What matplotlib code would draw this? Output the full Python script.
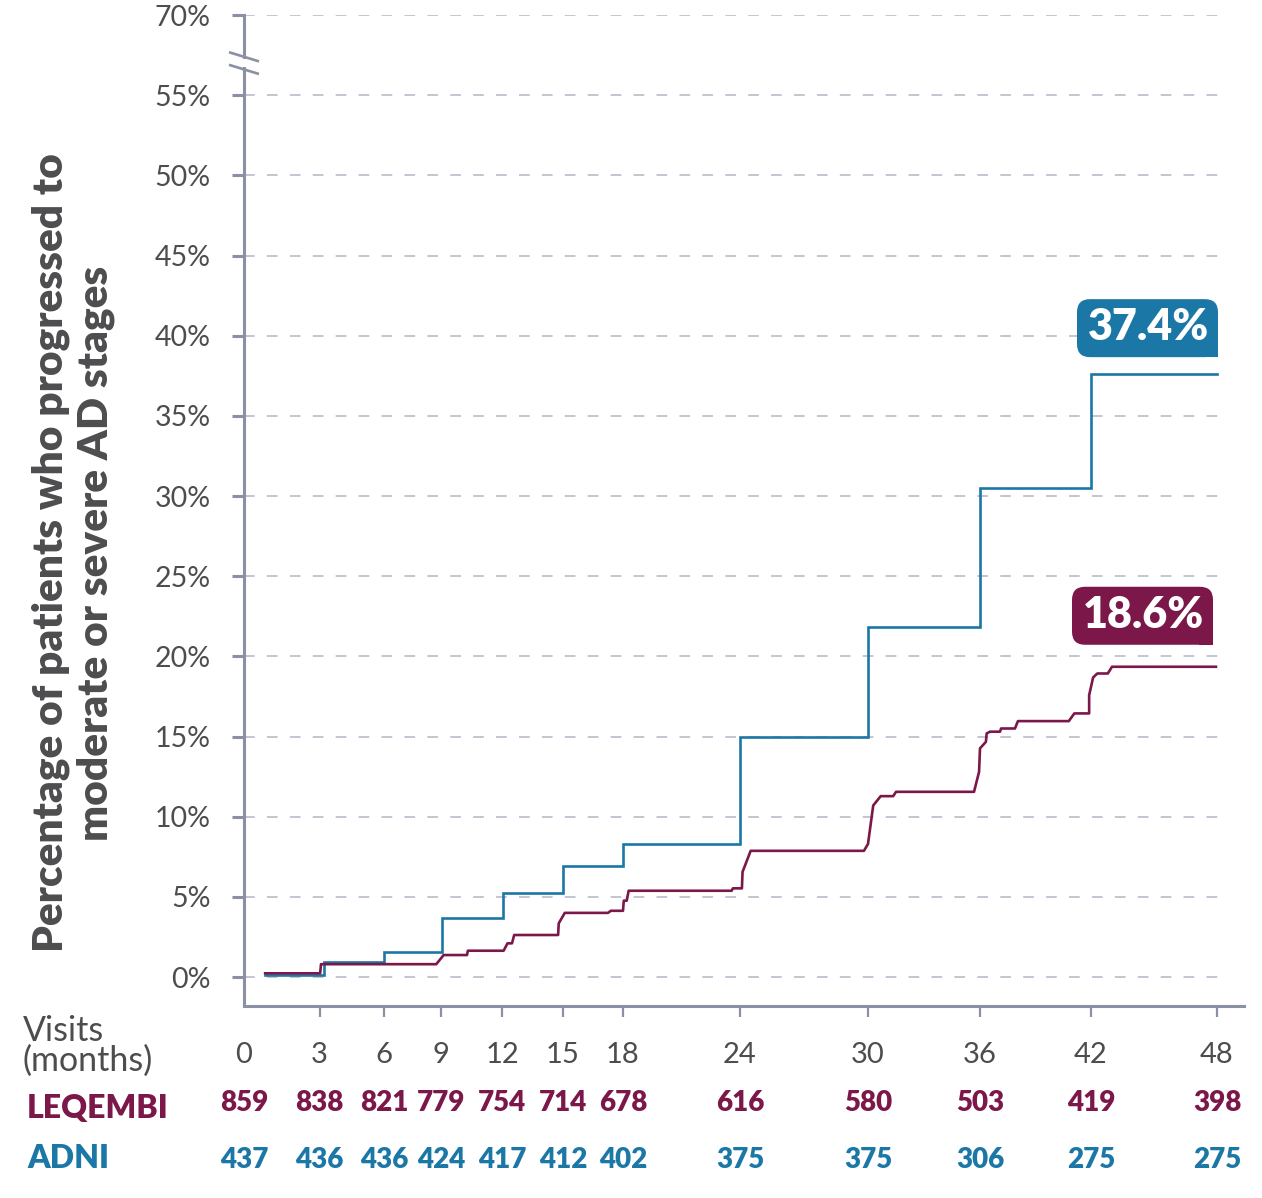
import numpy as np
import matplotlib
matplotlib.use("Agg")
import matplotlib.pyplot as plt
import matplotlib.transforms as mtransforms
from matplotlib.patches import FancyBboxPatch, Rectangle

plt.rcParams['font.family'] = ['Lato', 'DejaVu Sans']

# ---- data ----
visit_months = [0, 3, 6, 9, 12, 15, 18, 24, 30, 36, 42, 48]
leqembi_n = [859, 838, 821, 779, 754, 714, 678, 616, 580, 503, 419, 398]
adni_n = [437, 436, 436, 424, 417, 412, 402, 375, 375, 306, 275, 275]

adni_t = [0.84, 3.22, 6.0, 9.05, 12.05, 15.0, 18.0, 24.0, 30.0, 36.0, 42.0, 48.0]
adni_pct = [0.15, 0.93, 1.58, 3.7, 5.26, 6.94, 8.29, 15.0, 21.8, 30.5, 37.6, 37.6]

leqembi_t = [0.84, 3.03, 3.07, 8.75, 9.13, 10.28, 10.32, 12.08, 12.27, 12.49, 12.6,
             14.76, 14.79, 15.09, 17.25, 17.39, 18.0, 18.04, 18.19, 18.29, 23.57,
             23.64, 24.09, 24.12, 24.5, 29.81, 30.0, 30.28, 30.68, 31.35, 31.5,
             35.68, 35.95, 36.0, 36.32, 36.36, 36.54, 37.08, 37.14, 37.89, 38.05,
             40.8, 41.1, 41.9, 41.9, 42.1, 42.3, 42.8, 43.0, 47.95]
leqembi_pct = [0.23, 0.23, 0.8, 0.8, 1.37, 1.37, 1.64, 1.64, 2.1, 2.1, 2.62,
               2.62, 3.35, 4.0, 4.0, 4.13, 4.13, 4.76, 4.76, 5.38, 5.38,
               5.53, 5.53, 6.56, 7.87, 7.87, 8.3, 10.7, 11.28, 11.28, 11.55,
               11.55, 12.8, 14.26, 14.67, 15.19, 15.3, 15.3, 15.5, 15.5, 15.96,
               15.96, 16.44, 16.44, 17.58, 18.68, 18.93, 18.93, 19.35, 19.35]

y_ticks = [0, 5, 10, 15, 20, 25, 30, 35, 40, 45, 50, 55, 60]
y_labels = ['0%', '5%', '10%', '15%', '20%', '25%', '30%', '35%', '40%',
            '45%', '50%', '55%', '70%']

adni_final = '37.4%'
leqembi_final = '18.6%'

# ---- style ----
BLUE = '#1b77a5'
MAGENTA = '#7b1749'
AXIS = '#8b91a5'
GRID = '#b3b6c6'
TEXT = '#4d4d4f'

# uneven spacing of the visit axis (as drawn in the original)
scale_months = [-6, 0, 3, 6, 9, 12, 15, 18, 24, 30, 36, 42, 48, 54]
scale_pos = [94, 244, 319.5, 384, 441, 502, 563, 623, 740, 868, 980, 1091, 1217, 1343]


def fwd(m):
    return np.interp(m, scale_months, scale_pos)


def inv(p):
    return np.interp(p, scale_pos, scale_months)


W, H = 1262, 1198
fig = plt.figure(figsize=(W / 100, H / 100), dpi=100)
ax = fig.add_axes([244 / W, (H - 1006) / H, (1244 - 244) / W, (1006 - 15) / H])
ax.set_xscale('function', functions=(fwd, inv))
ax.set_xlim(0, inv(1244))
ax.set_ylim((977 - 1006) / 16.04, 60)

for s in ['top', 'right']:
    ax.spines[s].set_visible(False)
for s in ['left', 'bottom']:
    ax.spines[s].set_color(AXIS)
    ax.spines[s].set_linewidth(2.2)

# grid
ax.hlines(y_ticks, 0, 48.2, colors=GRID, linewidth=1.1, linestyles=(0, (7, 8)), zorder=1)

ax.plot(adni_t, adni_pct, drawstyle='steps-post', color=BLUE, lw=1.9, zorder=3,
        solid_joinstyle='miter')
ax.plot(leqembi_t, leqembi_pct, color=MAGENTA, lw=1.9, zorder=4)

ax.set_yticks(y_ticks)
ax.set_yticklabels(y_labels)
ax.tick_params(axis='y', length=9, width=2.2, color=AXIS, pad=15,
               labelsize=20.5, labelcolor=TEXT)
ax.set_xticks(visit_months)
ax.set_xticklabels([str(m) for m in visit_months])
ax.tick_params(axis='x', length=8, width=1.6, color=AXIS, pad=18,
               labelsize=21, labelcolor=TEXT)
ax.xaxis.get_major_ticks()[0].tick1line.set_visible(False)
ax.minorticks_off()

# axis break
brk = mtransforms.Affine2D() + mtransforms.ScaledTranslation(0, 57.0, ax.transData)
ax.add_patch(Rectangle((-6, -4), 12, 8, facecolor='white', edgecolor='none',
                       transform=brk, clip_on=False, zorder=5))
for off in (6.3, -6.3):
    ax.plot([-15, 15], [off + 4.6, off - 4.6], color=AXIS, lw=1.9,
            transform=brk, clip_on=False, zorder=6, solid_capstyle='butt')


# end labels
def end_label(x, y, txt, color, dx, dy):
    tr = mtransforms.Affine2D() + mtransforms.ScaledTranslation(x, y, ax.transData)
    w, h = 141, 58
    ax.add_patch(FancyBboxPatch((dx - w, dy), w, h,
                                boxstyle='round,pad=0,rounding_size=13',
                                facecolor=color, edgecolor='none',
                                transform=tr, clip_on=False, zorder=7))
    ax.add_patch(Rectangle((dx - 14, dy), 14, 14, facecolor=color, edgecolor='none',
                           transform=tr, clip_on=False, zorder=7))
    ax.text(dx - w / 2 + 1, dy + h / 2 + 1, txt, transform=tr, ha='center', va='center',
            color='white', fontsize=31, fontweight='heavy', zorder=8)


end_label(48, adni_pct[-1], adni_final, BLUE, 1, 17)
end_label(48, leqembi_pct[-1], leqembi_final, MAGENTA, -4, 22)

# at-risk rows
row = mtransforms.blended_transform_factory(ax.transData, fig.transFigure)
for m, n1, n2 in zip(visit_months, leqembi_n, adni_n):
    ax.text(m, 1 - 1103 / H, str(n1), transform=row, ha='center', va='center',
            color=MAGENTA, fontsize=20, fontweight='heavy', clip_on=False)
    ax.text(m, 1 - 1160 / H, str(n2), transform=row, ha='center', va='center',
            color=BLUE, fontsize=20, fontweight='heavy', clip_on=False)

fig.text(23 / W, 1 - 1046 / H, 'Visits\n(months)', ha='left', va='center',
         color=TEXT, fontsize=24.5, linespacing=0.92)
fig.text(27 / W, 1 - 1108 / H, 'LEQEMBI', ha='left', va='center',
         color=MAGENTA, fontsize=23, fontweight='heavy')
fig.text(27 / W, 1 - 1159 / H, 'ADNI', ha='left', va='center',
         color=BLUE, fontsize=23, fontweight='heavy')

fig.text(73 / W, 1 - 553 / H,
         'Percentage of patients who progressed to\nmoderate or severe AD stages',
         rotation=90, ha='center', va='center', color=TEXT, fontsize=30.5,
         fontweight='heavy', linespacing=1.2)

fig.savefig('out.png', dpi=100)
